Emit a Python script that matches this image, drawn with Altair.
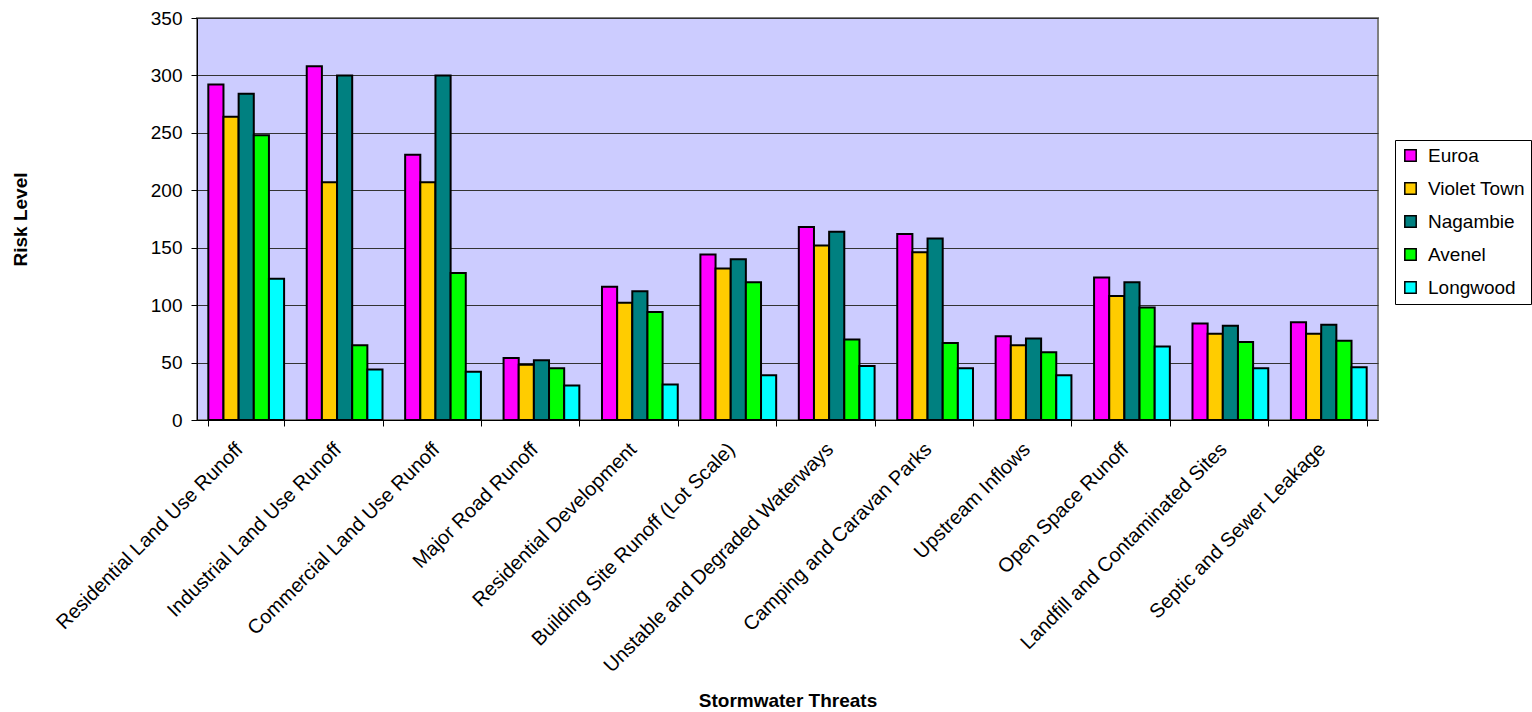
import altair as alt
import pandas as pd

# Stormwater threat categories (x axis) and the towns assessed (series)
threats = [
    "Residential Land Use Runoff",
    "Industrial Land Use Runoff",
    "Commercial Land Use Runoff",
    "Major Road Runoff",
    "Residential Development",
    "Building Site Runoff (Lot Scale)",
    "Unstable and Degraded Waterways",
    "Camping and Caravan Parks",
    "Upstream Inflows",
    "Open Space Runoff",
    "Landfill and Contaminated Sites",
    "Septic and Sewer Leakage",
]
towns = ["Euroa", "Violet Town", "Nagambie", "Avenel", "Longwood"]

# Risk level per threat, one list per town
euroa = [292, 308, 231, 54, 116, 144, 168, 162, 73, 124, 84, 85]
violet_town = [264, 207, 207, 48, 102, 132, 152, 146, 65, 108, 75, 75]
nagambie = [284, 300, 300, 52, 112, 140, 164, 158, 71, 120, 82, 83]
avenel = [248, 65, 128, 45, 94, 120, 70, 67, 59, 98, 68, 69]
longwood = [123, 44, 42, 30, 31, 39, 47, 45, 39, 64, 45, 46]

town_colors = ["#FF00FF", "#FFCC00", "#008080", "#00FF00", "#00FFFF"]
y_ticks = [0, 50, 100, 150, 200, 250, 300, 350]

series = [euroa, violet_town, nagambie, avenel, longwood]
rows = []
for town, values in zip(towns, series):
    for threat, v in zip(threats, values):
        rows.append({"threat": threat, "town": town, "risk": v})
df = pd.DataFrame(rows)

FONT = "Liberation Sans"
PLOT_W, PLOT_H = 1181, 402

chart = (
    alt.Chart(df)
    .mark_bar(stroke="black", strokeWidth=2)
    .encode(
        x=alt.X(
            "threat:N",
            sort=threats,
            scale=alt.Scale(paddingInner=0.23, paddingOuter=0.115),
            axis=alt.Axis(
                title="Stormwater Threats",
                titleX=PLOT_W / 2,
                titleY=280,
                titleAlign="center",
                titleBaseline="middle",
                labelAngle=-45,
                labelAlign="right",
                labelBaseline="middle",
                labelFontSize=20,
                labelPadding=20,
                labelOffset=-7,
                labelLimit=0,
                labelOverlap=False,
                tickBand="extent",
                tickSize=6,
                grid=False,
            ),
        ),
        xOffset=alt.XOffset("town:N", sort=towns),
        y=alt.Y(
            "risk:Q",
            scale=alt.Scale(domain=[0, 350], nice=False),
            axis=alt.Axis(
                title="Risk Level",
                values=y_ticks,
                titleX=-177,
                titleY=PLOT_H / 2,
                titleAngle=270,
                titleAlign="center",
                titleBaseline="middle",
                tickSize=6,
                labelPadding=9,
                grid=True,
                gridColor="#333333",
                gridWidth=1,
                gridOpacity=1,
            ),
        ),
        color=alt.Color(
            "town:N",
            sort=towns,
            scale=alt.Scale(domain=towns, range=town_colors),
            legend=alt.Legend(
                title=None,
                orient="none",
                legendX=1198,
                legendY=122,
                direction="vertical",
                fillColor="white",
                strokeColor="black",
                padding=6,
                symbolType="square",
                symbolSize=130,
                symbolStrokeColor="black",
                symbolStrokeWidth=1.5,
                symbolOpacity=1,
                labelFont=FONT,
                labelFontSize=19,
                labelColor="black",
                labelOffset=8,
                labelLimit=0,
                rowPadding=13,
            ),
        ),
    )
    .properties(
        width=PLOT_W,
        height=PLOT_H,
        autosize=alt.AutoSizeParams(type="none"),
        padding={"left": 197, "top": 18, "right": 154, "bottom": 292},
        background="white",
    )
    .configure_view(fill="#CCCCFF", stroke="#808080", strokeWidth=2)
    .configure_axis(
        labelFont=FONT,
        labelFontSize=19,
        labelColor="black",
        titleFont=FONT,
        titleFontSize=19,
        titleFontWeight="bold",
        titleColor="black",
        domainColor="black",
        domainWidth=1,
        tickColor="black",
        tickWidth=1,
    )
)

chart.save("out.html", embed_options={"renderer": "svg", "actions": False})
